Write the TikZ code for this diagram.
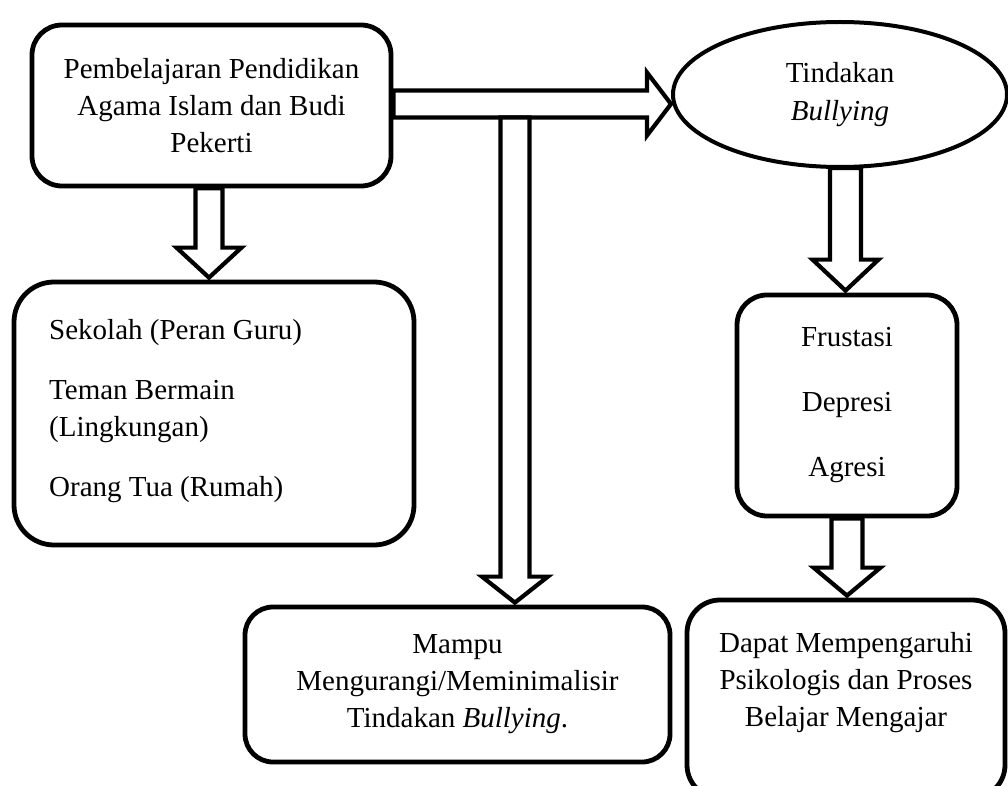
\documentclass[tikz,border=0pt]{standalone}
\usepackage{fontspec}
\setmainfont{Liberation Serif}
\usetikzlibrary{shapes.geometric,calc}
\tikzset{
  box/.style={draw, line width=4.8pt, rounded corners=30pt, fill=white, inner sep=0pt, align=center, font=\fontsize{29}{37}\selectfont},
  txt/.style={inner sep=0pt, align=center, font=\fontsize{29}{37}\selectfont},
  blockarrow/.style={draw, line width=4.2pt, fill=white, line join=miter},
}
% #1 start, #2 tip, #3 half shaft width, #4 half head width, #5 head length
\newcommand{\blockdown}[5]{%
  \draw[blockarrow] ($(#1)+(-#3,0)$) -- ($(#2)+(-#3,-#5)$) -- ($(#2)+(-#4,-#5)$) -- (#2)
    -- ($(#2)+(#4,-#5)$) -- ($(#2)+(#3,-#5)$) -- ($(#1)+(#3,0)$) -- cycle;}
\newcommand{\blockright}[5]{%
  \draw[blockarrow] ($(#1)+(0,-#3)$) -- ($(#2)+(-#5,-#3)$) -- ($(#2)+(-#5,-#4)$) -- (#2)
    -- ($(#2)+(-#5,#4)$) -- ($(#2)+(-#5,#3)$) -- ($(#1)+(0,#3)$) -- cycle;}
\begin{document}
\begin{tikzpicture}[x=1pt,y=-1pt]
\clip (0,0) rectangle (1008,786);
\fill[white] (0,0) rectangle (1008,786);

% boxes
\node[box, minimum width=359pt, minimum height=161pt] (b1) at (211.5,105.5)
  {Pembelajaran Pendidikan\\Agama Islam dan Budi\\Pekerti};
\node[draw, ellipse, line width=4pt, fill=white, minimum width=334pt, minimum height=145pt,
  inner sep=0pt, align=center, font=\fontsize{29}{38}\selectfont] (e) at (840,94.5)
  {Tindakan\\\textit{Bullying}};
\node[box, rounded corners=40pt, minimum width=400pt, minimum height=263pt] (b3) at (214,413.5) {};
\node[txt, align=left, anchor=west] (t3) at (49,411)
  {Sekolah (Peran Guru)\\[23pt]Teman Bermain\\(Lingkungan)\\[23pt]Orang Tua (Rumah)};
\node[box, minimum width=220pt, minimum height=221pt] (b4) at (847,405.5)
  {Frustasi\\[28pt]Depresi\\[28pt]Agresi};
\node[box, rounded corners=28pt, minimum width=425pt, minimum height=155pt] (b5) at (457.5,684.5)
  {Mampu\\Mengurangi/Meminimalisir\\Tindakan \textit{Bullying}.};
\node[box, rounded corners=33pt, minimum width=318pt, minimum height=198pt] (b6) at (846,699) {};
\node[txt] (t6) at (846,683) {Dapat Mempengaruhi\\Psikologis dan Proses\\Belajar Mengajar};

% block arrows
\coordinate (a1s) at ($(b1.east)+(0,-1.5)$);
\coordinate (a1t) at (e.west |- a1s);
\blockright{a1s}{a1t}{13.5}{31.5}{24}

\coordinate (j) at ($(a1s)+(121.5,13.5)$);
\coordinate (a3t) at ($(j |- b5.north)+(0,-2)$);
\blockdown{j}{a3t}{14.5}{33}{26}

\coordinate (a2s) at ($(b1.south)+(-2.5,0)$);
\coordinate (a2t) at ($(a2s |- b3.north)+(0,-2)$);
\blockdown{a2s}{a2t}{13.5}{32.5}{30}

\coordinate (a4s) at ($(b4.north |- e.south)+(-1.5,-1)$);
\coordinate (a4t) at ($(a4s |- b4.north)+(0,-2)$);
\blockdown{a4s}{a4t}{15.5}{33}{31}

\coordinate (a5s) at (b4.south);
\coordinate (a5t) at ($(a5s |- b6.north)+(0,-2)$);
\blockdown{a5s}{a5t}{15.5}{33.5}{28}
\end{tikzpicture}
\end{document}
